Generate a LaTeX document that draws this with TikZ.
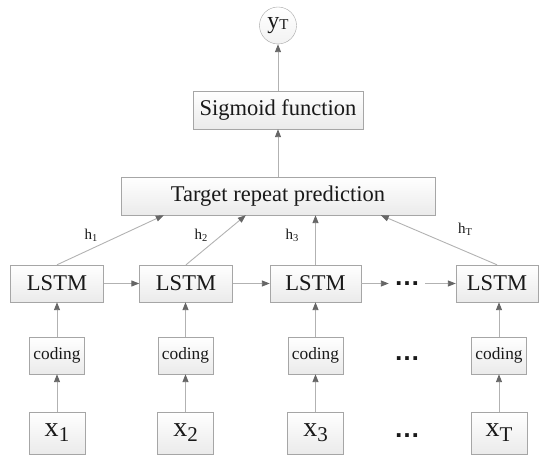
\documentclass[tikz,border=0pt]{standalone}
\usepackage{fontspec}
\setmainfont{Liberation Serif}
\newfontfamily\dotsfont{Liberation Sans}
\usetikzlibrary{arrows.meta}

\newcommand{\xsub}[1]{{\fontsize{28}{30}\selectfont x}\raisebox{-5pt}{\fontsize{21}{22}\selectfont #1}}
\newcommand{\hsub}[1]{h\raisebox{-2pt}{\fontsize{10.5}{11}\selectfont #1}}

\begin{document}
\begin{tikzpicture} [x=1pt, y=-1pt]
    \tikzstyle{every node} = [align=center, inner sep=0pt, text=black!90]
    \tikzstyle{block} = [draw=black!35, top color=white, bottom color=black!8, minimum height=37pt]
    \tikzstyle{boxtext} = [font=\fontsize{22.5}{24}\selectfont]
    \tikzstyle{codetext} = [font=\fontsize{17.3}{19}\selectfont]
    \tikzstyle{htext} = [font=\fontsize{15}{16}\selectfont]
    \tikzstyle{dotstext} = [font=\fontsize{26}{28}\selectfont\dotsfont\bfseries, inner xsep=5pt]
    \tikzstyle{link} = [draw=black!30, line width=0.9pt, -{Triangle[length=8pt, width=6pt, color=black!60]}]
    \useasboundingbox (0,0) rectangle (539,457);

    % output and top layers
    \node [circle, draw=black!35, top color=white, bottom color=black!5, minimum size=37pt] (y) at (278,25.5)
        {{\fontsize{24}{26}\selectfont y}\raisebox{-1pt}{\fontsize{15}{16}\selectfont T}};
    \node [block, boxtext, minimum width=170pt, minimum height=38pt] (sigmoid) at (278,110) {Sigmoid function};
    \node [block, boxtext, minimum width=314pt, minimum height=38pt] (target) at (278,196) {Target repeat prediction};

    % LSTM row
    \node [block, boxtext, minimum width=93pt] (lstm1) at (57,283.5) {LSTM};
    \node [block, boxtext, minimum width=93pt] (lstm2) at (186,283.5) {LSTM};
    \node [block, boxtext, minimum width=91pt] (lstm3) at (315.5,283.5) {LSTM};
    \node [dotstext] (dots1) at (407,283.5) {…};
    \node [block, boxtext, minimum width=82pt] (lstm4) at (497,283.5) {LSTM};

    % coding row
    \node [block, codetext, minimum width=55pt] (code1) at (57,355.5) {coding};
    \node [block, codetext, minimum width=55pt] (code2) at (185.5,355.5) {coding};
    \node [block, codetext, minimum width=55pt] (code3) at (315.5,355.5) {coding};
    \node [dotstext] (dots2) at (407,359) {…};
    \node [block, codetext, minimum width=55pt] (code4) at (499,355.5) {coding};

    % input row
    \node [block, minimum width=56pt, minimum height=42pt] (x1) at (57,433) {\xsub{1}};
    \node [block, minimum width=56pt, minimum height=42pt] (x2) at (185.5,433) {\xsub{2}};
    \node [block, minimum width=56pt, minimum height=42pt] (x3) at (315.5,433) {\xsub{3}};
    \node [dotstext] (dots3) at (407,436) {…};
    \node [block, minimum width=56pt, minimum height=42pt] (x4) at (499,433) {\xsub{T}};

    % hidden state labels
    \node [htext] (h1) at (91,235) {\hsub{1}};
    \node [htext] (h2) at (201,235) {\hsub{2}};
    \node [htext] (h3) at (292,235) {\hsub{3}};
    \node [htext] (h4) at (465,229) {\hsub{T}};

    % connectors
    \draw [link] (x1.north) -- (x1.north |- code1.south);
    \draw [link] (x2.north) -- (x2.north |- code2.south);
    \draw [link] (x3.north) -- (x3.north |- code3.south);
    \draw [link] (x4.north) -- (x4.north |- code4.south);
    \draw [link] (code1.north) -- (code1.north |- lstm1.south);
    \draw [link] (code2.north) -- (code2.north |- lstm2.south);
    \draw [link] (code3.north) -- (code3.north |- lstm3.south);
    \draw [link] (code4.north) -- (code4.north |- lstm4.south);
    \draw [link] (lstm1.east) -- (lstm2.west);
    \draw [link] (lstm2.east) -- (lstm3.west);
    \draw [link] (lstm3.east) -- (lstm3.east -| dots1.west);
    \draw [link] (dots1.east |- lstm4.west) -- (lstm4.west);
    \draw [link] (lstm1.north) -- ([xshift=43pt]target.south west);
    \draw [link] (lstm2.north) -- ([xshift=125pt]target.south west);
    \draw [link] (lstm3.north) -- (lstm3.north |- target.south);
    \draw [link] (lstm4.north) -- ([xshift=260pt]target.south west);
    \draw [link] (target.north) -- (sigmoid.south);
    \draw [link] (sigmoid.north) -- (y.south);
\end{tikzpicture}
\end{document}
